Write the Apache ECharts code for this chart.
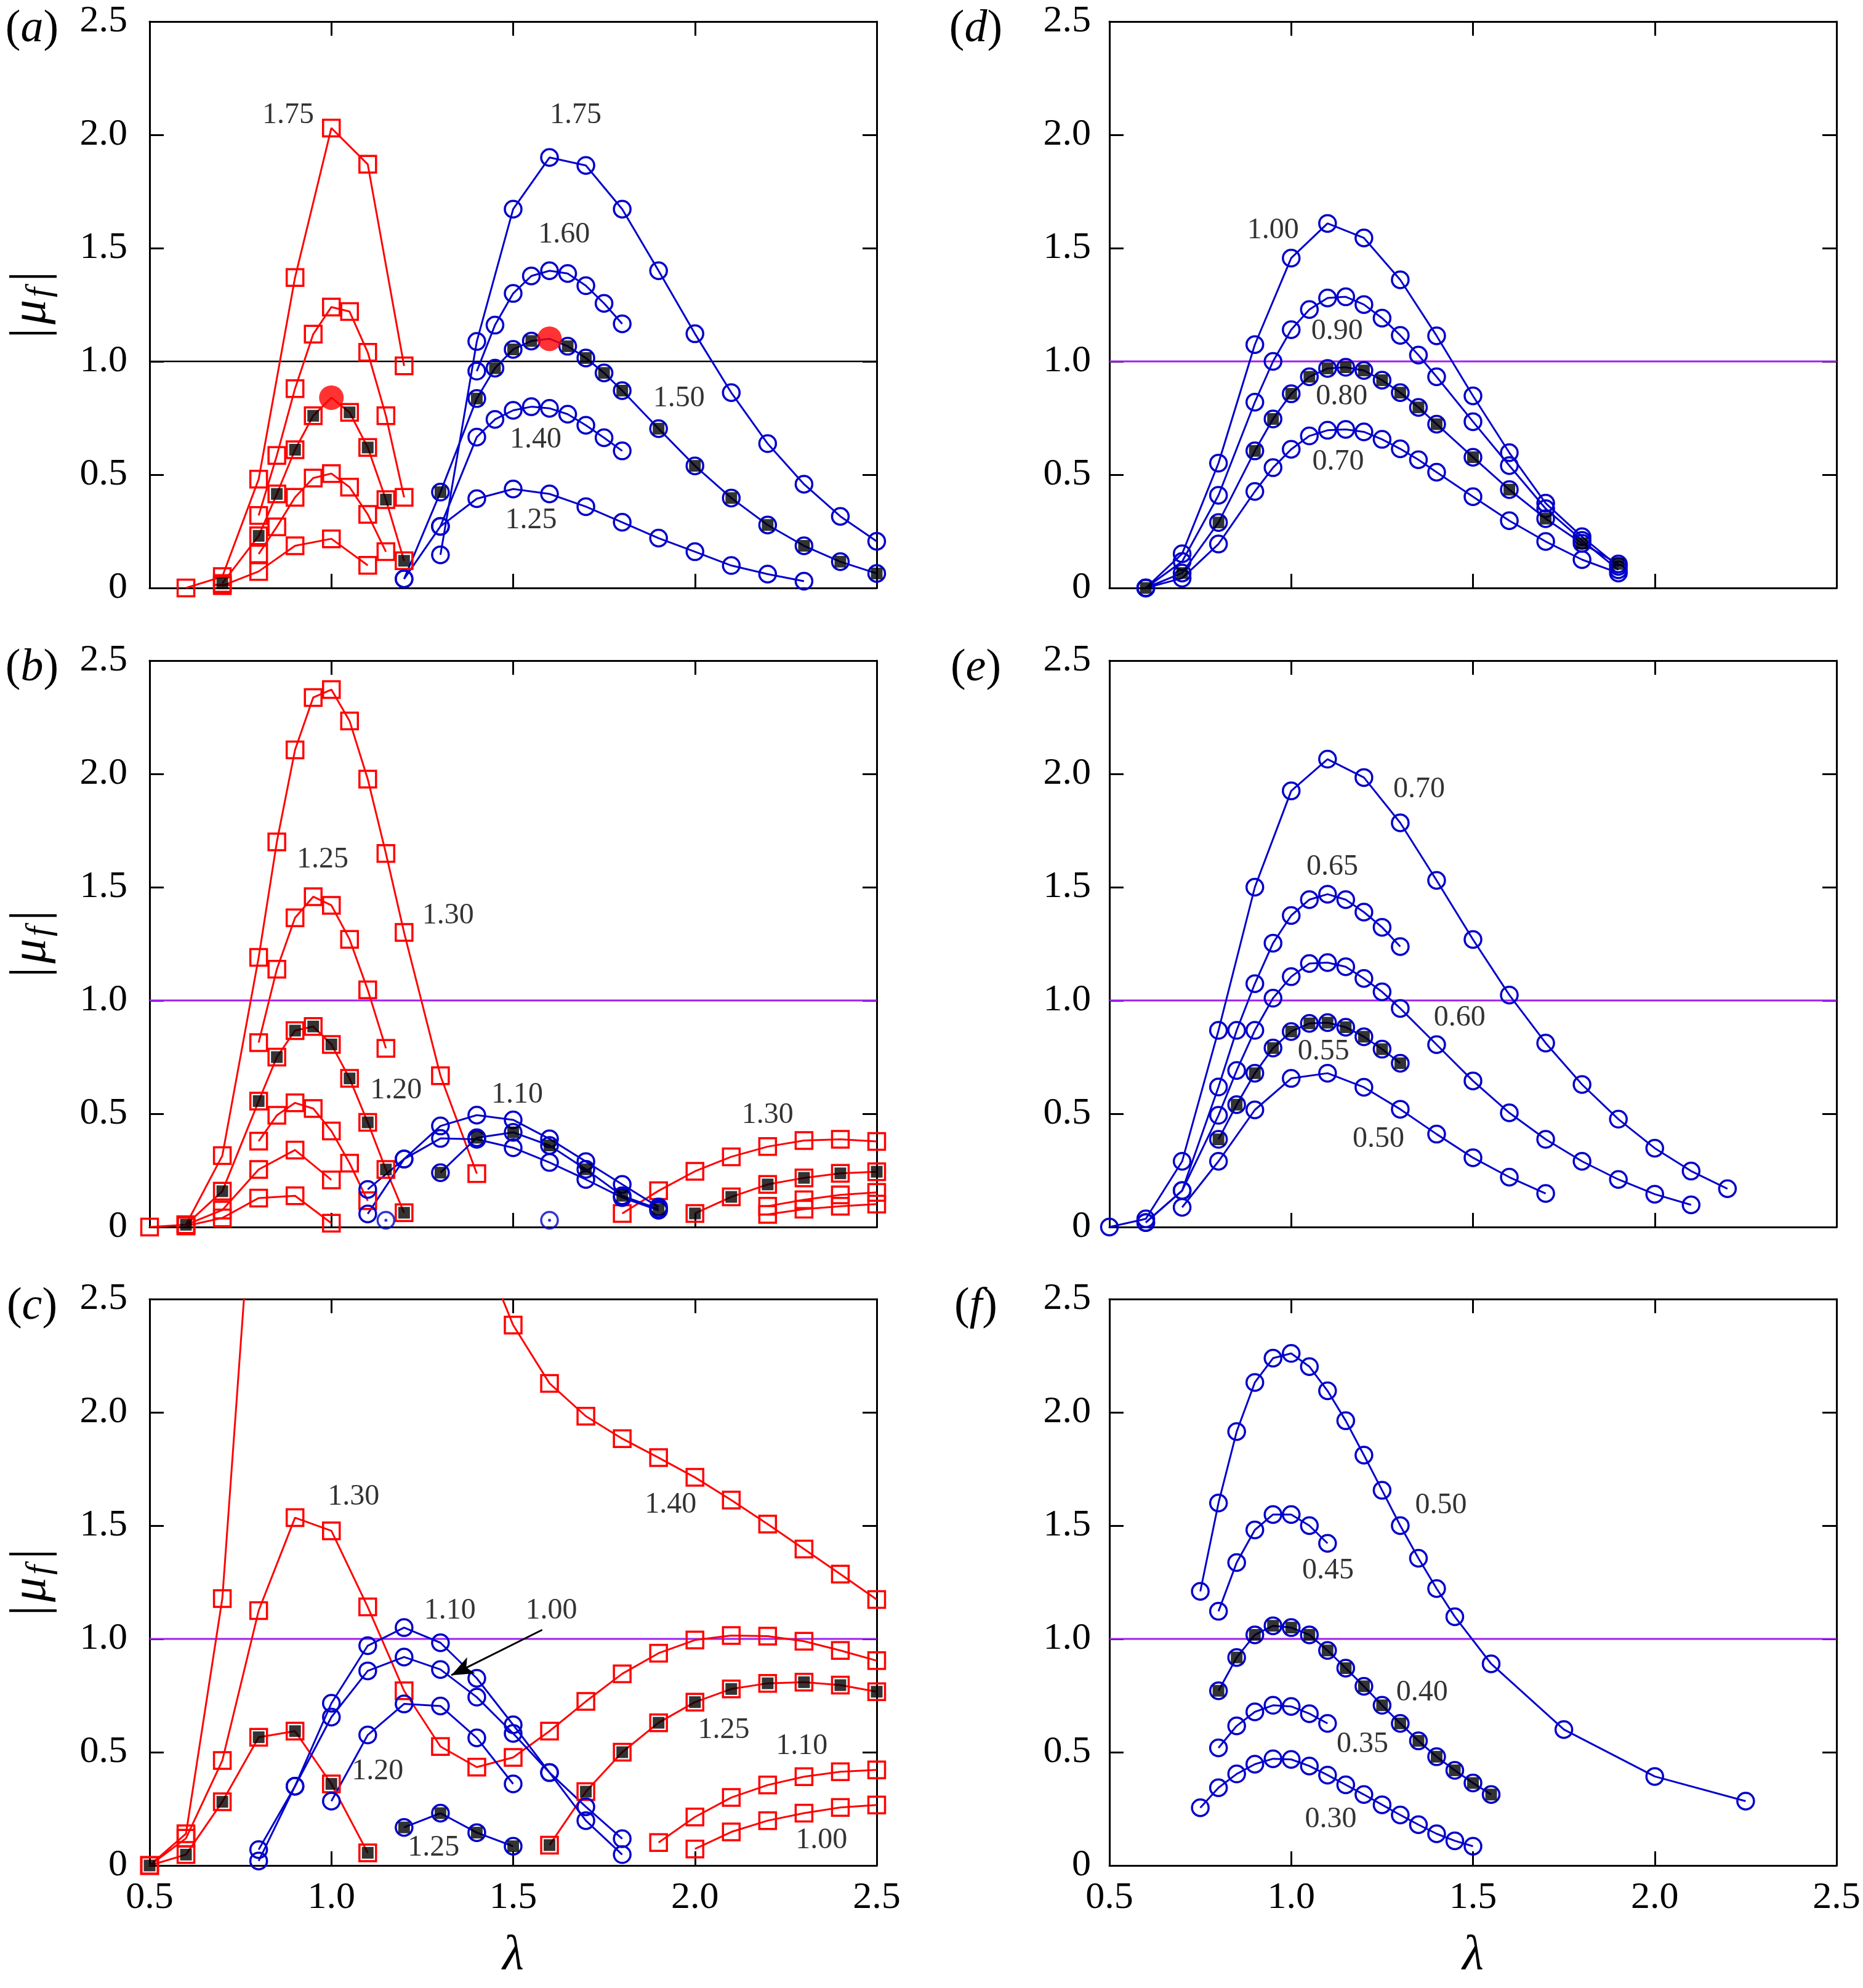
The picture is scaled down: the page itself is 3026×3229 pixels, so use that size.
<!DOCTYPE html>
<html>
<head>
<meta charset="utf-8">
<script src="https://cdn.jsdelivr.net/npm/echarts@6/dist/echarts.min.js"></script>
<style>
html,body{margin:0;padding:0;background:#fff;}
#chart{width:3026px;height:3229px;}
</style>
</head>
<body>
<div id="chart"></div>
<script>
// ---------- axis ticks ----------
const xTicks = [0.5, 1.0, 1.5, 2.0, 2.5];
const yTicks = [0, 0.5, 1.0, 1.5, 2.0, 2.5];
const refLevel = 1.0;

// ---------- panel (a) ----------
const aR175 = [[0.6,0],[0.7,0.05],[0.8,0.48],[0.9,1.37],[1.0,2.03],[1.1,1.87],[1.2,0.98]];
const aR2 = [[0.8,0.32],[0.85,0.585],[0.9,0.88],[0.95,1.12],[1.0,1.24],[1.05,1.22],[1.1,1.04],[1.15,0.76],[1.2,0.40]];
const aR3 = [[0.7,0.02],[0.8,0.23],[0.85,0.415],[0.9,0.61],[0.95,0.76],[1.0,0.84],[1.05,0.775],[1.1,0.62],[1.15,0.39],[1.2,0.12]];
const aR4 = [[0.8,0.15],[0.85,0.27],[0.9,0.40],[0.95,0.485],[1.0,0.505],[1.05,0.445],[1.1,0.325],[1.15,0.16]];
const aR5 = [[0.7,0.01],[0.8,0.073],[0.9,0.186],[1.0,0.217],[1.1,0.10]];
const aB175 = [[1.3,0.146],[1.4,1.088],[1.5,1.672],[1.6,1.90],[1.7,1.865],[1.8,1.672],[1.9,1.40],[2.0,1.122],[2.1,0.862],[2.2,0.637],[2.3,0.458],[2.4,0.316],[2.5,0.206]];
const aB160 = [[1.4,0.957],[1.45,1.16],[1.5,1.30],[1.55,1.377],[1.6,1.40],[1.65,1.388],[1.7,1.334],[1.75,1.256],[1.8,1.166]];
const aB150 = [[1.2,0.04],[1.3,0.423],[1.4,0.836],[1.45,0.97],[1.5,1.053],[1.55,1.09],[1.6,1.10],[1.65,1.067],[1.7,1.015],[1.75,0.949],[1.8,0.871],[1.9,0.703],[2.0,0.539],[2.1,0.397],[2.2,0.278],[2.3,0.186],[2.4,0.116],[2.5,0.064]];
const aB140 = [[1.2,0.04],[1.3,0.272],[1.4,0.666],[1.45,0.744],[1.5,0.784],[1.55,0.80],[1.6,0.793],[1.65,0.767],[1.7,0.718],[1.75,0.663],[1.8,0.605]];
const aB125 = [[1.3,0.272],[1.4,0.394],[1.5,0.437],[1.6,0.415],[1.7,0.359],[1.8,0.29],[1.9,0.22],[2.0,0.16],[2.1,0.099],[2.2,0.061],[2.3,0.03]];
const aDots = [[1.0,0.84],[1.6,1.10]];

// ---------- panel (b) ----------
const bR130 = [[0.5,0],[0.6,0.01],[0.7,0.315],[0.8,1.19],[0.85,1.70],[0.9,2.106],[0.95,2.337],[1.0,2.372],[1.05,2.234],[1.1,1.977],[1.15,1.649],[1.2,1.30],[1.3,0.668],[1.4,0.236]];
const bR125 = [[0.8,0.814],[0.85,1.138],[0.9,1.365],[0.95,1.458],[1.0,1.42],[1.05,1.27],[1.1,1.047],[1.15,0.789]];
const bR120 = [[0.6,0.01],[0.7,0.158],[0.8,0.556],[0.85,0.75],[0.9,0.867],[0.95,0.885],[1.0,0.806],[1.05,0.656],[1.1,0.462],[1.15,0.254],[1.2,0.063]];
const bR4 = [[0.8,0.379],[0.85,0.493],[0.9,0.548],[0.95,0.523],[1.0,0.424],[1.05,0.282],[1.1,0.116]];
const bR5 = [[0.6,0.01],[0.7,0.075],[0.8,0.254],[0.9,0.34],[1.0,0.208]];
const bR6 = [[0.6,0.005],[0.7,0.04],[0.8,0.128],[0.9,0.138],[1.0,0.017]];
const bR7 = [[1.8,0.06],[1.9,0.16],[2.0,0.246],[2.1,0.31],[2.2,0.355],[2.3,0.382],[2.4,0.387],[2.5,0.378]];
const bR8 = [[2.0,0.06],[2.1,0.133],[2.2,0.188],[2.3,0.217],[2.4,0.237],[2.5,0.244]];
const bR9 = [[2.2,0.092],[2.3,0.12],[2.4,0.142],[2.5,0.153]];
const bR10 = [[2.2,0.056],[2.3,0.079],[2.4,0.092],[2.5,0.101]];
const bB1 = [[1.1,0.166],[1.2,0.30],[1.3,0.446],[1.4,0.494],[1.5,0.473],[1.6,0.389],[1.7,0.289],[1.8,0.188],[1.9,0.088]];
const bB2 = [[1.3,0.24],[1.4,0.394],[1.5,0.418],[1.6,0.36],[1.7,0.255],[1.8,0.138],[1.9,0.079]];
const bB3 = [[1.1,0.058],[1.2,0.30],[1.3,0.391],[1.4,0.387],[1.5,0.35],[1.6,0.285],[1.7,0.21],[1.8,0.13],[1.9,0.074]];
const bSingle = [[1.15,0.03],[1.6,0.03]];

// ---------- panel (c) ----------
const cR1 = [[0.5,0],[0.6,0.14],[0.7,1.178],[0.8,3.4]];
const cR130 = [[0.5,0],[0.6,0.12],[0.7,0.463],[0.8,1.125],[0.9,1.535],[1.0,1.477],[1.1,1.141],[1.2,0.771],[1.3,0.525],[1.4,0.434],[1.5,0.477],[1.6,0.593],[1.7,0.724],[1.8,0.846],[1.9,0.937],[2.0,0.995],[2.1,1.015],[2.2,1.012],[2.3,0.99],[2.4,0.949],[2.5,0.904]];
const cR3 = [[0.5,0],[0.6,0.048],[0.7,0.281],[0.8,0.566],[0.9,0.593],[1.0,0.36],[1.1,0.056]];
const cR140 = [[1.4,2.78],[1.5,2.385],[1.6,2.128],[1.7,1.983],[1.8,1.884],[1.9,1.80],[2.0,1.713],[2.1,1.613],[2.2,1.507],[2.3,1.397],[2.4,1.286],[2.5,1.174]];
const cR125 = [[1.6,0.09],[1.7,0.326],[1.8,0.5],[1.9,0.63],[2.0,0.721],[2.1,0.779],[2.2,0.804],[2.3,0.809],[2.4,0.796],[2.5,0.767]];
const cR110 = [[1.9,0.101],[2.0,0.214],[2.1,0.30],[2.2,0.355],[2.3,0.392],[2.4,0.414],[2.5,0.422]];
const cR100 = [[2.0,0.073],[2.1,0.148],[2.2,0.198],[2.3,0.231],[2.4,0.256],[2.5,0.267]];
const cB110 = [[0.8,0.02],[0.9,0.35],[1.0,0.716],[1.1,0.97],[1.2,1.05],[1.3,0.983],[1.4,0.826],[1.5,0.621],[1.6,0.41],[1.7,0.198],[1.8,0.048]];
const cB100 = [[0.8,0.07],[0.9,0.35],[1.0,0.655],[1.1,0.859],[1.2,0.92],[1.3,0.865],[1.4,0.743],[1.5,0.583],[1.6,0.41],[1.7,0.259],[1.8,0.118]];
const cB120 = [[1.0,0.284],[1.1,0.576],[1.2,0.713],[1.3,0.704],[1.4,0.563],[1.5,0.36]];
const cB125 = [[1.2,0.168],[1.3,0.231],[1.4,0.145],[1.5,0.085]];
const cArrow = [[1.58,1.04],[1.33,0.84]];

// ---------- panel (d) ----------
const dB100 = [[0.6,0],[0.7,0.151],[0.8,0.551],[0.9,1.074],[1.0,1.456],[1.1,1.609],[1.2,1.545],[1.3,1.36],[1.4,1.113],[1.5,0.848],[1.6,0.597],[1.7,0.374],[1.8,0.226],[1.9,0.095]];
const dB090 = [[0.6,0],[0.7,0.117],[0.8,0.409],[0.9,0.82],[0.95,1.0],[1.0,1.14],[1.05,1.229],[1.1,1.28],[1.15,1.285],[1.2,1.251],[1.25,1.191],[1.3,1.115],[1.35,1.028],[1.4,0.932],[1.5,0.734],[1.6,0.54],[1.7,0.35],[1.8,0.21],[1.9,0.08]];
const dB080 = [[0.6,0],[0.7,0.066],[0.8,0.289],[0.9,0.605],[0.95,0.746],[1.0,0.857],[1.05,0.932],[1.1,0.969],[1.15,0.974],[1.2,0.96],[1.25,0.917],[1.3,0.862],[1.35,0.797],[1.4,0.723],[1.5,0.577],[1.6,0.434],[1.7,0.306],[1.8,0.197],[1.9,0.106]];
const dB070 = [[0.6,0],[0.7,0.043],[0.8,0.194],[0.9,0.426],[0.95,0.531],[1.0,0.612],[1.05,0.671],[1.1,0.696],[1.15,0.70],[1.2,0.689],[1.25,0.656],[1.3,0.614],[1.35,0.566],[1.4,0.511],[1.5,0.403],[1.6,0.297],[1.7,0.205],[1.8,0.125],[1.9,0.066]];

// ---------- panel (e) ----------
const eB070 = [[0.5,0],[0.6,0.036],[0.7,0.29],[0.8,0.868],[0.9,1.5],[1.0,1.925],[1.1,2.065],[1.2,1.984],[1.3,1.784],[1.4,1.53],[1.5,1.269],[1.6,1.024],[1.7,0.812],[1.8,0.629],[1.9,0.476],[2.0,0.348],[2.1,0.247],[2.2,0.169]];
const eB065 = [[0.6,0.02],[0.7,0.161],[0.8,0.618],[0.85,0.868],[0.9,1.074],[0.95,1.253],[1.0,1.375],[1.05,1.445],[1.1,1.469],[1.15,1.445],[1.2,1.39],[1.25,1.323],[1.3,1.238]];
const eB060 = [[0.6,0.02],[0.7,0.161],[0.8,0.493],[0.85,0.691],[0.9,0.868],[0.95,1.01],[1.0,1.105],[1.05,1.163],[1.1,1.167],[1.15,1.149],[1.2,1.097],[1.25,1.038],[1.3,0.965],[1.4,0.805],[1.5,0.645],[1.6,0.504],[1.7,0.387],[1.8,0.29],[1.9,0.21],[2.0,0.145],[2.1,0.098]];
const eB055 = [[0.8,0.387],[0.85,0.54],[0.9,0.679],[0.95,0.79],[1.0,0.863],[1.05,0.899],[1.1,0.902],[1.15,0.882],[1.2,0.84],[1.25,0.785],[1.3,0.723]];
const eB050 = [[0.7,0.087],[0.8,0.29],[0.9,0.517],[1.0,0.656],[1.1,0.679],[1.2,0.617],[1.3,0.52],[1.4,0.41],[1.5,0.306],[1.6,0.22],[1.7,0.148]];

// ---------- panel (f) ----------
const fB050 = [[0.75,1.21],[0.8,1.60],[0.85,1.915],[0.9,2.132],[0.95,2.239],[1.0,2.26],[1.05,2.202],[1.1,2.095],[1.15,1.963],[1.2,1.811],[1.25,1.656],[1.3,1.50],[1.35,1.356],[1.4,1.222],[1.45,1.098],[1.55,0.89],[1.75,0.60],[2.0,0.393],[2.25,0.284]];
const fB045 = [[0.8,1.122],[0.85,1.337],[0.9,1.481],[0.95,1.549],[1.0,1.549],[1.05,1.50],[1.1,1.422]];
const fB040 = [[0.8,0.771],[0.85,0.918],[0.9,1.018],[0.95,1.058],[1.0,1.05],[1.05,1.018],[1.1,0.949],[1.15,0.871],[1.2,0.791],[1.25,0.707],[1.3,0.627],[1.35,0.55],[1.4,0.48],[1.45,0.42],[1.5,0.364],[1.55,0.313]];
const fB035 = [[0.8,0.519],[0.85,0.616],[0.9,0.678],[0.95,0.707],[1.0,0.702],[1.05,0.67],[1.1,0.627]];
const fB030 = [[0.75,0.255],[0.8,0.343],[0.85,0.404],[0.9,0.447],[0.95,0.471],[1.0,0.468],[1.05,0.439],[1.1,0.399],[1.15,0.356],[1.2,0.313],[1.25,0.268],[1.3,0.223],[1.35,0.18],[1.4,0.14],[1.45,0.109],[1.5,0.085]];

// ---------- curve annotations [x, y, text] ----------
const labA = [[0.881,2.085,'1.75'],[1.672,2.085,'1.75'],[1.64,1.559,'1.60'],[1.956,0.836,'1.50'],[1.562,0.654,'1.40'],[1.549,0.298,'1.25']];
const labB = [[0.976,1.62,'1.25'],[1.321,1.375,'1.30'],[1.178,0.603,'1.20'],[1.511,0.582,'1.10'],[2.2,0.493,'1.30']];
const labC = [[1.061,1.626,'1.30'],[1.933,1.59,'1.40'],[1.326,1.123,'1.10'],[1.605,1.123,'1.00'],[1.127,0.414,'1.20'],[2.079,0.596,'1.25'],[2.294,0.527,'1.10'],[2.348,0.11,'1.00'],[1.281,0.078,'1.25']];
const labD = [[0.95,1.577,'1.00'],[1.126,1.131,'0.90'],[1.139,0.845,'0.80'],[1.129,0.557,'0.70']];
const labE = [[1.352,1.932,'0.70'],[1.113,1.589,'0.65'],[1.463,0.922,'0.60'],[1.089,0.773,'0.55'],[1.24,0.387,'0.50']];
const labF = [[1.412,1.588,'0.50'],[1.101,1.30,'0.45'],[1.36,0.763,'0.40'],[1.196,0.535,'0.35'],[1.109,0.204,'0.30']];
const panelNames = ['a','b','c','d','e','f'];

// ---------- styling / layout ----------
const FONT = '"Liberation Serif", "Times New Roman", Times, serif';
const RED = '#ff0000', BLUE = '#0000cc', PURPLE = '#a020f0';
const GL = [243, 243, 243, 1802, 1802, 1802];
const GT = [35, 1073, 2110, 35, 1073, 2110];
const GW = 1181, GH = 920;

const curves = [
  {p:0,d:aR175,c:RED,m:'rect'},{p:0,d:aR2,c:RED,m:'rect'},{p:0,d:aR3,c:RED,m:'rect',fill:true},
  {p:0,d:aR4,c:RED,m:'rect'},{p:0,d:aR5,c:RED,m:'rect'},
  {p:0,d:aB175,c:BLUE,m:'circle'},{p:0,d:aB160,c:BLUE,m:'circle'},{p:0,d:aB150,c:BLUE,m:'circle',fill:true,fillFrom:1},
  {p:0,d:aB140,c:BLUE,m:'circle'},{p:0,d:aB125,c:BLUE,m:'circle'},
  {p:1,d:bR130,c:RED,m:'rect'},{p:1,d:bR125,c:RED,m:'rect'},{p:1,d:bR120,c:RED,m:'rect',fill:true},
  {p:1,d:bR4,c:RED,m:'rect'},{p:1,d:bR5,c:RED,m:'rect'},{p:1,d:bR6,c:RED,m:'rect'},
  {p:1,d:bR7,c:RED,m:'rect'},{p:1,d:bR8,c:RED,m:'rect',fill:true},{p:1,d:bR9,c:RED,m:'rect'},{p:1,d:bR10,c:RED,m:'rect'},
  {p:1,d:bB1,c:BLUE,m:'circle'},{p:1,d:bB2,c:BLUE,m:'circle',fill:true},{p:1,d:bB3,c:BLUE,m:'circle'},
  {p:2,d:cR1,c:RED,m:'rect'},{p:2,d:cR130,c:RED,m:'rect'},{p:2,d:cR3,c:RED,m:'rect',fill:true},
  {p:2,d:cR140,c:RED,m:'rect'},{p:2,d:cR125,c:RED,m:'rect',fill:true},{p:2,d:cR110,c:RED,m:'rect'},{p:2,d:cR100,c:RED,m:'rect'},
  {p:2,d:cB110,c:BLUE,m:'circle'},{p:2,d:cB100,c:BLUE,m:'circle'},{p:2,d:cB120,c:BLUE,m:'circle'},{p:2,d:cB125,c:BLUE,m:'circle',fill:true},
  {p:3,d:dB100,c:BLUE,m:'circle'},{p:3,d:dB090,c:BLUE,m:'circle'},{p:3,d:dB080,c:BLUE,m:'circle',fill:true},{p:3,d:dB070,c:BLUE,m:'circle'},
  {p:4,d:eB070,c:BLUE,m:'circle'},{p:4,d:eB065,c:BLUE,m:'circle'},{p:4,d:eB060,c:BLUE,m:'circle'},{p:4,d:eB055,c:BLUE,m:'circle',fill:true},{p:4,d:eB050,c:BLUE,m:'circle'},
  {p:5,d:fB050,c:BLUE,m:'circle'},{p:5,d:fB045,c:BLUE,m:'circle'},{p:5,d:fB040,c:BLUE,m:'circle',fill:true},{p:5,d:fB035,c:BLUE,m:'circle'},{p:5,d:fB030,c:BLUE,m:'circle'}
];
const annotations = [labA, labB, labC, labD, labE, labF];

function isDot(p, pt){
  if (p !== 0) return false;
  return aDots.some(d => Math.abs(d[0]-pt[0]) < 1e-9 && Math.abs(d[1]-pt[1]) < 1e-9);
}

const grid = [], xAxis = [], yAxis = [], series = [];
for (let g = 0; g < 6; g++) {
  grid.push({left: GL[g], top: GT[g], width: GW, height: GH, containLabel: false});
  const showX = (g === 2 || g === 5);
  const common = {
    gridIndex: g, type: 'value', splitLine: {show: false},
    axisLine: {show: true, onZero: false, lineStyle: {color: '#000', width: 3}},
    axisTick: {show: true, inside: true, length: 23, lineStyle: {color: '#000', width: 3}}
  };
  xAxis.push(Object.assign({}, common, {
    position: 'bottom', min: xTicks[0], max: xTicks[xTicks.length-1], interval: 0.5,
    axisLabel: {show: showX, fontFamily: FONT, fontSize: 62, color: '#000', margin: 22,
      formatter: v => v.toFixed(1)}
  }));
  xAxis.push(Object.assign({}, common, {
    position: 'top', min: xTicks[0], max: xTicks[xTicks.length-1], interval: 0.5,
    axisLabel: {show: false}
  }));
  yAxis.push(Object.assign({}, common, {
    position: 'left', min: yTicks[0], max: yTicks[yTicks.length-1], interval: 0.5,
    axisLabel: {show: true, fontFamily: FONT, fontSize: 62, color: '#000', margin: g < 3 ? 36 : 30,
      formatter: v => v === 0 ? '0' : v.toFixed(1)}
  }));
  yAxis.push(Object.assign({}, common, {
    position: 'right', min: yTicks[0], max: yTicks[yTicks.length-1], interval: 0.5,
    axisLabel: {show: false}
  }));
  // reference line |mu_f| = 1
  series.push({
    type: 'line', xAxisIndex: 2*g, yAxisIndex: 2*g,
    data: [[xTicks[0], refLevel], [xTicks[xTicks.length-1], refLevel]],
    symbol: 'none', silent: true, z: 1,
    lineStyle: {color: g === 0 ? '#000' : PURPLE, width: g === 0 ? 2.5 : 3}
  });
  // annotations
  series.push({
    type: 'scatter', xAxisIndex: 2*g, yAxisIndex: 2*g, silent: true, z: 6,
    symbolSize: 1, itemStyle: {color: 'rgba(0,0,0,0)'},
    data: annotations[g].map(a => ({value: [a[0], a[1]], name: a[2]})),
    label: {show: true, position: 'inside', formatter: '{b}', fontFamily: FONT, fontSize: 48, color: '#000'}
  });
}

curves.forEach(cfg => {
  const s = {
    type: 'line', xAxisIndex: 2*cfg.p, yAxisIndex: 2*cfg.p,
    data: cfg.d.map(pt => isDot(cfg.p, pt) ? {value: pt, symbol: 'none'} : pt),
    symbol: cfg.m, symbolSize: 27, showAllSymbol: true, silent: true, z: 3,
    itemStyle: {color: 'rgba(255,255,255,0)', borderColor: cfg.c, borderWidth: 3.5},
    lineStyle: {color: cfg.c, width: 3}
  };
  series.push(s);
  if (cfg.fill) {
    const pts = cfg.d.slice(cfg.fillFrom || 0).filter(pt => !isDot(cfg.p, pt));
    series.push({
      type: 'scatter', xAxisIndex: 2*cfg.p, yAxisIndex: 2*cfg.p, silent: true, z: 4,
      symbol: 'rect', symbolSize: 19, itemStyle: {color: '#000'}, data: pts
    });
  }
});

// isolated points in panel (b)
series.push({
  type: 'scatter', xAxisIndex: 2, yAxisIndex: 2, silent: true, z: 3,
  symbol: 'circle', symbolSize: 27, data: bSingle,
  itemStyle: {color: 'rgba(255,255,255,0)', borderColor: BLUE, borderWidth: 3.5}
});
series.push({
  type: 'scatter', xAxisIndex: 2, yAxisIndex: 2, silent: true, z: 3,
  symbol: 'circle', symbolSize: 5, data: bSingle, itemStyle: {color: BLUE}
});

// red dots in panel (a)
series.push({
  type: 'scatter', xAxisIndex: 0, yAxisIndex: 0, silent: true, z: 5,
  symbol: 'circle', symbolSize: 40, data: aDots, itemStyle: {color: RED}
});

// arrow in panel (c)
series.push({
  type: 'line', xAxisIndex: 4, yAxisIndex: 4, data: [], silent: true, z: 6,
  markLine: {
    silent: true, symbol: ['none', 'arrow'], symbolSize: [22, 36],
    label: {show: false},
    lineStyle: {color: '#000', width: 3, type: 'solid'},
    emphasis: {disabled: true},
    data: [[{coord: cArrow[0]}, {coord: cArrow[1]}]]
  }
});

// graphic text: panel letters, y labels, x labels
const graphic = [];
for (let g = 0; g < 6; g++) {
  const cx = g < 3 ? 52 : 1585;
  graphic.push({
    type: 'text', x: cx, y: GT[g] + 13,
    style: {
      text: '{p|(}{l|' + panelNames[g] + '}{p|)}',
      rich: {
        p: {fontFamily: FONT, fontSize: 74, fill: '#000'},
        l: {fontFamily: FONT, fontSize: 74, fontStyle: 'italic', fill: '#000'}
      },
      align: 'center', verticalAlign: 'middle'
    }
  });
}
for (let g = 0; g < 3; g++) {
  const cy = GT[g] + GH / 2;
  graphic.push({
    type: 'group', x: 52, y: cy, rotation: Math.PI / 2,
    children: [
      {type: 'text', x: -46, y: 0, style: {text: '|', fontFamily: FONT, fontSize: 84, fill: '#000', align: 'center', verticalAlign: 'middle'}},
      {type: 'text', x: -12, y: 0, style: {text: 'μ', fontFamily: FONT, fontSize: 80, fontStyle: 'italic', fill: '#000', align: 'center', verticalAlign: 'middle'}},
      {type: 'text', x: 20, y: 14, style: {text: 'f', fontFamily: FONT, fontSize: 56, fontStyle: 'italic', fill: '#000', align: 'center', verticalAlign: 'middle'}},
      {type: 'text', x: 46, y: 0, style: {text: '|', fontFamily: FONT, fontSize: 84, fill: '#000', align: 'center', verticalAlign: 'middle'}}
    ]
  });
}
[GL[2] + GW / 2, GL[5] + GW / 2].forEach(cx => {
  graphic.push({
    type: 'text', x: cx, y: 3177,
    style: {text: 'λ', fontFamily: FONT, fontSize: 80, fontStyle: 'italic', fill: '#000', align: 'center', verticalAlign: 'middle'}
  });
});

const chart = echarts.init(document.getElementById('chart'), null, {renderer: 'canvas'});
chart.setOption({
  backgroundColor: '#fff',
  animation: false,
  grid: grid, xAxis: xAxis, yAxis: yAxis, series: series, graphic: graphic
});
</script>
</body>
</html>
